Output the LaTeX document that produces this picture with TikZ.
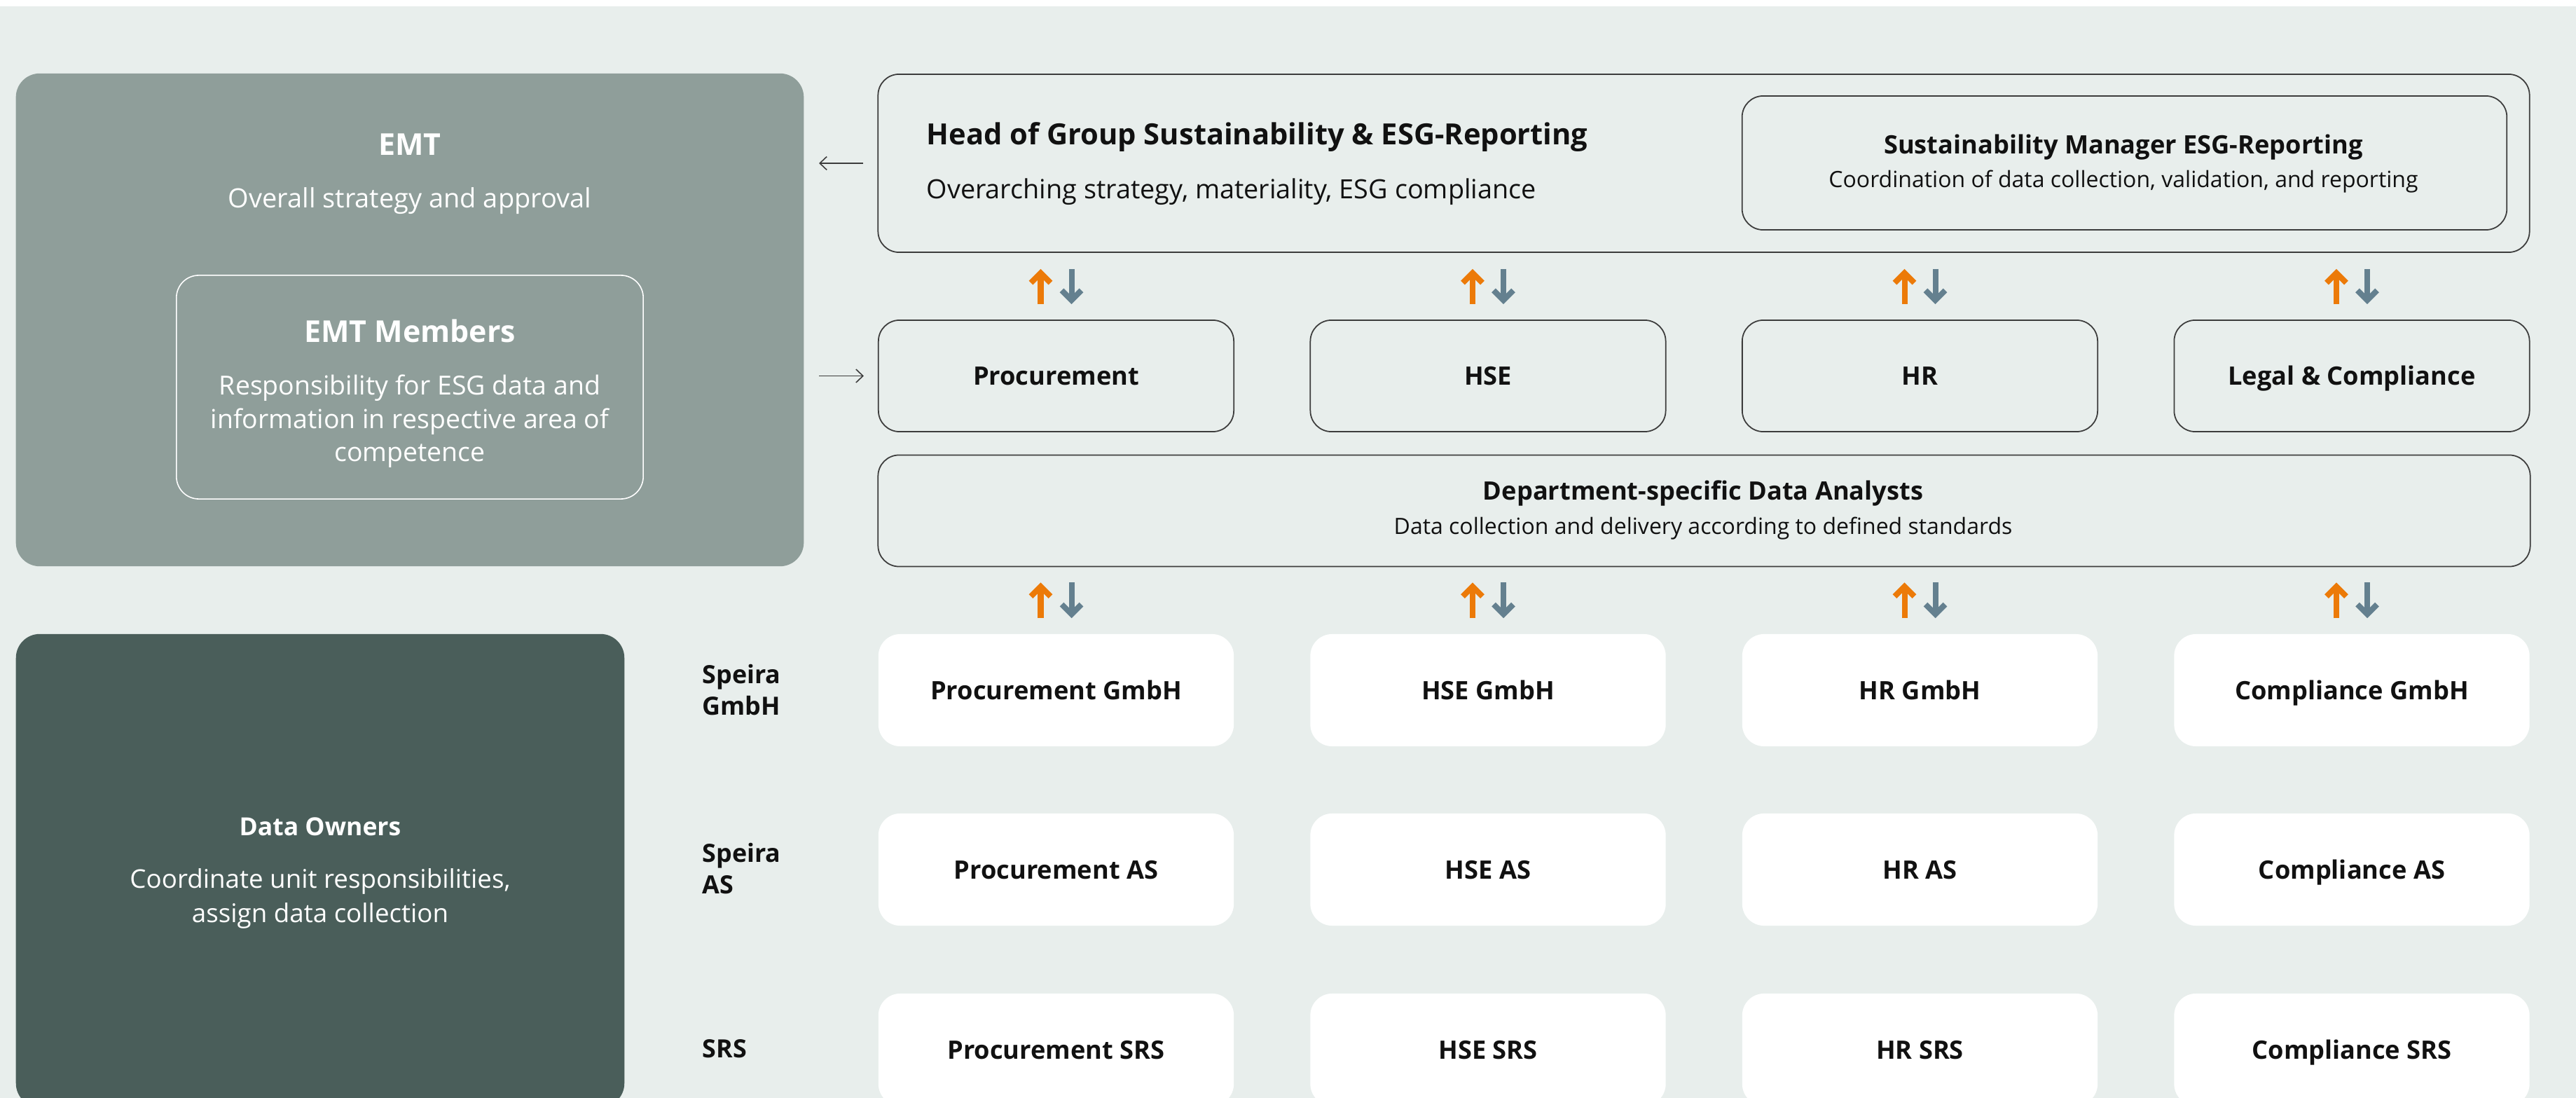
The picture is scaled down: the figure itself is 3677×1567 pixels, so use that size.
\documentclass[tikz,border=0pt]{standalone}
\usepackage{fontspec}
\setmainfont{Open Sans}
\usetikzlibrary{arrows.meta}
\definecolor{bgc}{HTML}{E8EEEC}
\definecolor{emtc}{HTML}{8F9E9A}
\definecolor{ownc}{HTML}{4A5E5A}
\definecolor{orangec}{HTML}{EC7A08}
\definecolor{greyc}{HTML}{64808F}
\definecolor{linec}{HTML}{3C3C3C}
\definecolor{txtc}{HTML}{111111}
\tikzset{
  outlinebox/.style={draw=linec, line width=0.5pt, rounded corners=0.3cm, inner sep=0pt},
  whitebox/.style={fill=white, rounded corners=0.31cm, inner sep=0pt, minimum width=5.07cm, minimum height=1.6cm},
  deptbox/.style={outlinebox, minimum width=5.07cm, minimum height=1.59cm},
  boxlabel/.style={font=\fontsize{10.3pt}{12pt}\selectfont\bfseries, text=txtc, text height=0.26cm, text depth=0pt},
  thinarrow/.style={draw=linec, line width=0.45pt, -{Straight Barb[length=0.1cm, width=0.19cm]}},
  uparrow/.style={draw=orangec, line width=2.28pt, line join=miter, -{Straight Barb[length=0.14cm, width=0.28cm]}},
  downarrow/.style={draw=greyc, line width=2.28pt, line join=miter, -{Straight Barb[length=0.14cm, width=0.28cm]}},
  wtitle/.style={text=white, font=\fontsize{12.2pt}{14pt}\selectfont\bfseries, inner sep=0pt, anchor=base},
  wbody/.style={text=white, inner sep=0pt, anchor=base},
  rowlabel/.style={text=txtc, font=\fontsize{10.2pt}{12pt}\selectfont\bfseries, inner sep=0pt, anchor=base west},
}
\begin{document}
\begin{tikzpicture}[x=0.01cm, y=-0.01cm]
\useasboundingbox (0,0) rectangle (3677,1567);
\fill[white] (0,0) rectangle (3677,1567);
\fill[bgc] (0,9) rectangle (3677,1567);
\begin{scope}
\clip (0,0) rectangle (3677,1567);

% ---------- left column ----------
\node[fill=emtc, rounded corners=0.34cm, inner sep=0pt, minimum width=11.24cm, minimum height=7.03cm] (emt) at (585,456.5) {};
\node[wtitle] (emtT) at (585,222) {EMT};
\node[wbody, font=\fontsize{10.8pt}{13pt}\selectfont] (emtS) at (585,297) {Overall strategy and approval};
\node[draw=white, line width=0.45pt, rounded corners=0.32cm, inner sep=0pt, minimum width=6.66cm, minimum height=3.19cm] (mem) at (585,552.5) {};
\node[wtitle] (memT) at (585,489) {EMT Members};
\node[wbody, font=\fontsize{10.65pt}{13pt}\selectfont] (memA) at (585,564) {Responsibility for ESG data and};
\node[wbody, font=\fontsize{10.65pt}{13pt}\selectfont] (memB) at (585,612) {information in respective area of};
\node[wbody, font=\fontsize{10.65pt}{13pt}\selectfont] (memC) at (585,659) {competence};

\node[fill=ownc, rounded corners=0.34cm, inner sep=0pt, minimum width=8.68cm, minimum height=6.75cm] (own) at (457,1242.5) {};
\node[wtitle, font=\fontsize{10.1pt}{12pt}\selectfont\bfseries] (ownT) at (457,1192.4) {Data Owners};
\node[wbody, font=\fontsize{10.45pt}{13pt}\selectfont] (ownA) at (457,1267.8) {Coordinate unit responsibilities,};
\node[wbody, font=\fontsize{10.45pt}{13pt}\selectfont] (ownB) at (457,1316) {assign data collection};

% ---------- head ----------
\node[outlinebox, minimum width=23.56cm, minimum height=2.54cm] (head) at (2432,233) {};
\node[text=txtc, font=\fontsize{11.85pt}{14pt}\selectfont\bfseries, inner sep=0pt, anchor=base west] (headT) at (1322,207) {Head of Group Sustainability \& ESG-Reporting};
\node[text=txtc, font=\fontsize{10.75pt}{13pt}\selectfont, inner sep=0pt, anchor=base west] (headS) at (1322,283.5) {Overarching strategy, materiality, ESG compliance};
\node[outlinebox, minimum width=10.91cm, minimum height=1.91cm] (sust) at (3032.5,232.5) {};
\node[text=txtc, font=\fontsize{10.3pt}{12pt}\selectfont\bfseries, inner sep=0pt, anchor=base] (sustT) at (3031,219.3) {Sustainability Manager ESG-Reporting};
\node[text=txtc, font=\fontsize{9.1pt}{11pt}\selectfont, inner sep=0pt, anchor=base] (sustS) at (3031,267.5) {Coordination of data collection, validation, and reporting};

% ---------- departments ----------
\node[deptbox, boxlabel] (proc) at (1507.5,536.5) {Procurement};
\node[deptbox, boxlabel] (hse)  at (2124,536.5) {HSE};
\node[deptbox, boxlabel] (hr)   at (2740.5,536.5) {HR};
\node[deptbox, boxlabel] (legal) at (3357,536.5) {Legal \& Compliance};

% ---------- analysts ----------
\node[outlinebox, minimum width=23.57cm, minimum height=1.59cm] (ana) at (2432.5,729) {};
\node[text=txtc, font=\fontsize{10.3pt}{12pt}\selectfont\bfseries, inner sep=0pt, anchor=base] (anaT) at (2431,714) {Department-specific Data Analysts};
\node[text=txtc, font=\fontsize{9.1pt}{11pt}\selectfont, inner sep=0pt, anchor=base] (anaS) at (2431,763) {Data collection and delivery according to defined standards};

% ---------- entity rows ----------
\node[whitebox, boxlabel] (pg) at (1507.5,985) {Procurement GmbH};
\node[whitebox, boxlabel] (hg) at (2124,985) {HSE GmbH};
\node[whitebox, boxlabel] (rg) at (2740.5,985) {HR GmbH};
\node[whitebox, boxlabel] (cg) at (3357,985) {Compliance GmbH};
\node[whitebox, boxlabel] (pa) at (1507.5,1241) {Procurement AS};
\node[whitebox, boxlabel] (ha) at (2124,1241) {HSE AS};
\node[whitebox, boxlabel] (ra) at (2740.5,1241) {HR AS};
\node[whitebox, boxlabel] (ca) at (3357,1241) {Compliance AS};
\node[whitebox, boxlabel] (ps) at (1507.5,1498) {Procurement SRS};
\node[whitebox, boxlabel] (hs) at (2124,1498) {HSE SRS};
\node[whitebox, boxlabel] (rs) at (2740.5,1498) {HR SRS};
\node[whitebox, boxlabel] (cs) at (3357,1498) {Compliance SRS};

\node[rowlabel] (lg1) at (1002,975.5) {Speira};
\node[rowlabel] (lg2) at (1002,1020) {GmbH};
\node[rowlabel] (la1) at (1002,1230.6) {Speira};
\node[rowlabel] (la2) at (1002,1275.7) {AS};
\node[rowlabel] (ls1) at (1002,1509.7) {SRS};
\end{scope}

% ---------- connectors ----------
\draw[thinarrow, shorten <=0.2cm, shorten >=0.21cm] (head.west) -- (head.west -| emt.east);
\draw[thinarrow, shorten <=0.21cm, shorten >=0.2cm] (proc.west -| emt.east) -- (proc.west);

\foreach \d in {proc,hse,hr,legal}{
  \draw[uparrow, shorten <=0.22cm, shorten >=0.23cm] ([xshift=-0.22cm]\d.north) -- ([xshift=-0.22cm]\d.north |- head.south);
  \draw[downarrow, shorten <=0.23cm, shorten >=0.22cm] ([xshift=0.22cm]\d.north |- head.south) -- ([xshift=0.22cm]\d.north);
}
\foreach \d in {pg,hg,rg,cg}{
  \draw[uparrow, shorten <=0.22cm, shorten >=0.22cm] ([xshift=-0.22cm]\d.north) -- ([xshift=-0.22cm]\d.north |- ana.south);
  \draw[downarrow, shorten <=0.22cm, shorten >=0.22cm] ([xshift=0.22cm]\d.north |- ana.south) -- ([xshift=0.22cm]\d.north);
}
\end{tikzpicture}
\end{document}
